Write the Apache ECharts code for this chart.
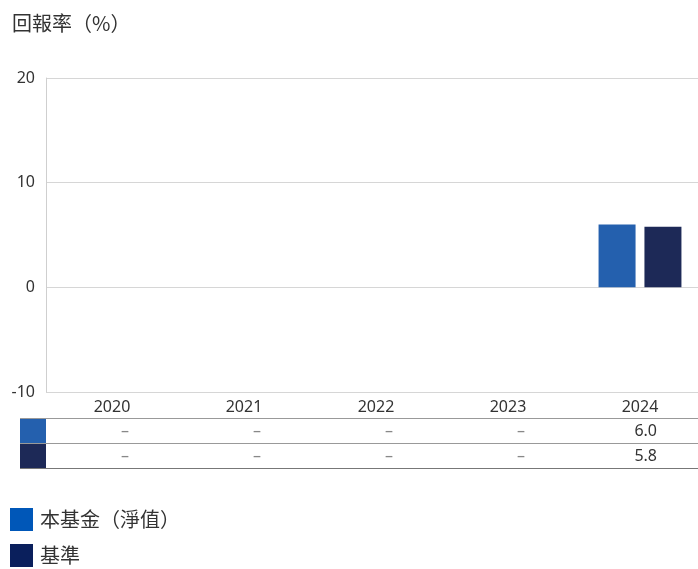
<!DOCTYPE html>
<html>
<head>
<meta charset="utf-8">
<script src="https://cdn.jsdelivr.net/npm/echarts@6/dist/echarts.min.js"></script>
<style>
html,body{margin:0;padding:0;background:#fff;overflow:hidden;}
#c{width:706px;height:569px;}
</style>
</head>
<body>
<div id="c"></div>
<script>
const categories = ['2020', '2021', '2022', '2023', '2024'];
const fundName = '本基金（淨值）';
const benchName = '基準';
const fundValues = [null, null, null, null, 6.0];
const benchValues = [null, null, null, null, 5.8];
const yTicks = { min: -10, max: 20, interval: 10 };
const titleText = '回報率（%）';

const fundColor = '#2460ae';
const benchColor = '#1d2957';
const fundLegendColor = '#0057b8';
const benchLegendColor = '#0a1f5c';
const latin = '"Noto Sans", "Liberation Sans", Arial, sans-serif';
const cjk = '"Noto Sans CJK TC", "Noto Sans CJK SC", sans-serif';

const chart = echarts.init(document.getElementById('c'), null, { renderer: 'canvas' });

const option = {
  animation: false,
  backgroundColor: '#fff',
  title: {
    text: titleText,
    left: 7, top: 8, padding: 5,
    textStyle: { fontFamily: cjk, fontSize: 20, fontWeight: 'normal', color: '#333' }
  },
  legend: {
    orient: 'vertical',
    left: 10, top: 508, padding: 0,
    itemWidth: 23, itemHeight: 23, itemGap: 13,
    icon: 'rect',
    textStyle: { fontFamily: cjk, fontSize: 20, color: '#333', padding: [12, 0, 0, 2] },
    data: [
      { name: fundName, itemStyle: { color: fundLegendColor } },
      { name: benchName, itemStyle: { color: benchLegendColor } }
    ]
  },
  grid: { left: 46, top: 78, bottom: 177, right: 0, containLabel: false },
  xAxis: {
    type: 'category',
    data: categories,
    axisLine: { show: false, onZero: false },
    axisTick: { show: false },
    axisLabel: { margin: 7, fontFamily: latin, fontSize: 16, color: '#333' }
  },
  yAxis: {
    type: 'value',
    min: yTicks.min, max: yTicks.max, interval: yTicks.interval,
    axisLine: { show: true, lineStyle: { color: '#cfcfcf', width: 1 } },
    axisTick: { show: false },
    axisLabel: { margin: 11, fontFamily: latin, fontSize: 16, color: '#333' },
    splitLine: { show: true, lineStyle: { color: '#d6d6d6', width: 1 } }
  },
  series: [
    { name: fundName, type: 'bar', data: fundValues, barWidth: 37, barGap: '24%',
      itemStyle: { color: fundColor } },
    { name: benchName, type: 'bar', data: benchValues, barWidth: 37,
      itemStyle: { color: benchColor } }
  ]
};
chart.setOption(option);

// Build data table below the chart from the same arrays
function buildTable() {
  const g = [];
  const rows = [
    { values: fundValues, color: fundColor, top: 418 },
    { values: benchValues, color: benchColor, top: 443 }
  ];
  const rowH = 25;
  const lineLeft = 20, lineRight = 706;
  rows.forEach(function (r) {
    g.push({ type: 'rect', shape: { x: 20, y: r.top, width: 26, height: rowH },
      style: { fill: r.color } });
    r.values.forEach(function (v, i) {
      const cx = chart.convertToPixel({ xAxisIndex: 0 }, categories[i]);
      const isNull = (v === null || v === undefined);
      g.push({ type: 'text', x: cx + 17, y: r.top + rowH / 2 + 0.5,
        style: { text: isNull ? '–' : v.toFixed(1), align: 'right', verticalAlign: 'middle',
          font: '16px ' + latin, fill: isNull ? '#888' : '#333' } });
    });
  });
  [418, 443, 468].forEach(function (y, k) {
    g.push({ type: 'line', shape: { x1: lineLeft, y1: y + 0.5, x2: lineRight, y2: y + 0.5 },
      style: { stroke: k === 2 ? '#777' : '#999', lineWidth: 1 } });
  });
  chart.setOption({ graphic: g });
}
buildTable();
</script>
</body>
</html>
